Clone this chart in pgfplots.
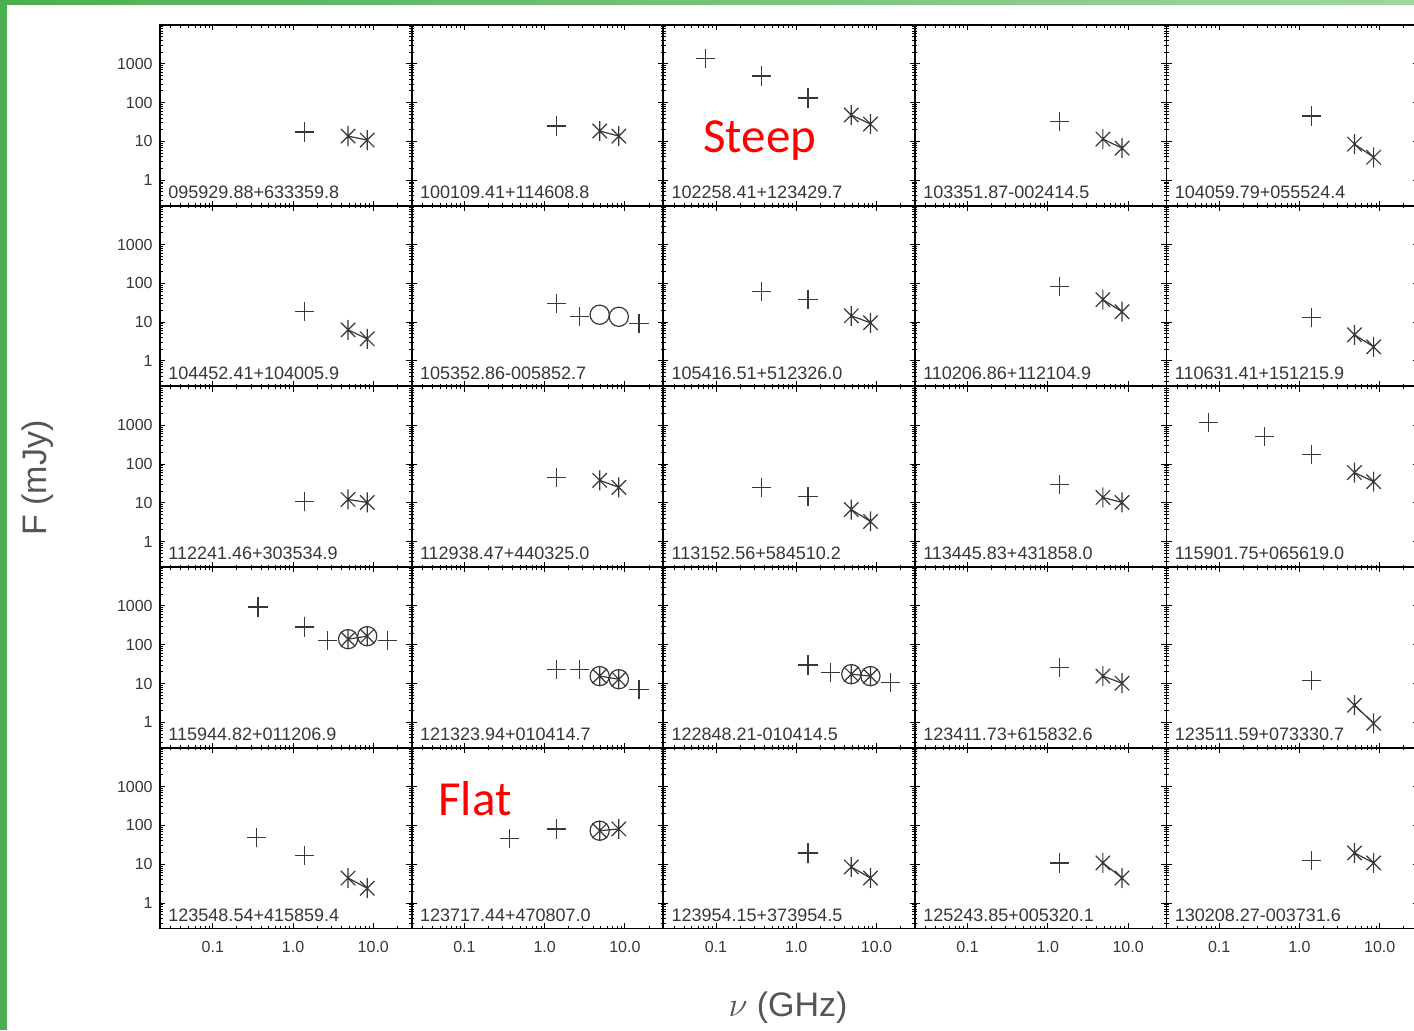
\documentclass[border=0pt]{standalone}
\usepackage{fontspec}
\setmainfont{Liberation Sans}
\newfontfamily\calibri{Carlito}
\usepackage{pgfplots}
\pgfplotsset{compat=1.18}
\definecolor{gA}{RGB}{76,176,80}
\definecolor{gB}{RGB}{160,214,160}
\definecolor{ink}{RGB}{55,55,55}
\definecolor{lab}{RGB}{85,85,85}
\pgfdeclareplotmark{idlstar}{%
  \pgfpathmoveto{\pgfqpoint{0pt}{\pgfplotmarksize}}%
  \pgfpathlineto{\pgfqpoint{0pt}{-\pgfplotmarksize}}%
  \pgfpathmoveto{\pgfqpoint{-0.72\pgfplotmarksize}{-0.72\pgfplotmarksize}}%
  \pgfpathlineto{\pgfqpoint{0.72\pgfplotmarksize}{0.72\pgfplotmarksize}}%
  \pgfpathmoveto{\pgfqpoint{-0.72\pgfplotmarksize}{0.72\pgfplotmarksize}}%
  \pgfpathlineto{\pgfqpoint{0.72\pgfplotmarksize}{-0.72\pgfplotmarksize}}%
  \pgfusepathqstroke}
\newcommand\Pbegin[4]{\begin{axis}[
  xmode=log, ymode=log, xmin=0.022, xmax=30, ymin=0.22, ymax=10000,
  scale only axis, width=125.8pt, height=90.35pt,
  xtick={0.1,1,10}, ytick={1,10,100,1000},
  minor xtick={0.03,0.04,0.05,0.06,0.07,0.08,0.09,0.2,0.3,0.4,0.5,0.6,0.7,0.8,0.9,2,3,4,5,6,7,8,9,20},
  minor ytick={0.3,0.4,0.5,0.6,0.7,0.8,0.9,2,3,4,5,6,7,8,9,20,30,40,50,60,70,80,90,200,300,400,500,600,700,800,900,2000,3000,4000,5000,6000,7000,8000,9000},
  xticklabels={#3}, yticklabels={#4},
  tick align=inside, major tick length=2.6pt, minor tick length=1.3pt,
  axis line style={line width=0.9pt, black},
  tick style={black, line width=0.45pt},
  tick label style={font=\fontsize{8}{9}\selectfont, text=ink},
  xticklabel style={inner sep=0pt, yshift=-6pt},
  yticklabel style={inner sep=0pt, xshift=-3.5pt},
  clip=false, at={(#1,#2)}]}
\newcommand\PL[1]{\addplot[only marks, mark=+, mark size=4.8pt, color=ink, line width=0.6pt] coordinates {#1};}
\newcommand\ST[1]{\addplot[mark=idlstar, mark size=5pt, color=ink, line width=0.6pt] coordinates {#1};}
\newcommand\CI[1]{\addplot[only marks, mark=o, mark size=4.8pt, color=ink, line width=0.6pt] coordinates {#1};}
\newcommand\NM[1]{\node[anchor=base west, inner sep=0pt, text=ink, font=\fontsize{9}{10}\selectfont] at (rel axis cs:0.032,0.04) {#1};}
\begin{document}
\begin{tikzpicture}
\useasboundingbox (0,0) rectangle (707pt,515pt);
\fill[white] (0,0) rectangle (707pt,515pt);
\fill[gA] (0,0) rectangle (3.5pt,515pt);
\shade[left color=gA, right color=gB] (0,512.5pt) rectangle (707pt,515pt);

% ---------- row 1 ----------
\Pbegin{80pt}{412.15pt}{}{1,10,100,1000}
\PL{(1.4,17.4)}
\ST{(4.85,13.7) (8.4,10.8)}
\NM{095929.88+633359.8}
\end{axis}
\Pbegin{205.8pt}{412.15pt}{}{}
\PL{(1.4,25)}
\ST{(4.85,18.5) (8.4,13.7)}
\NM{100109.41+114608.8}
\end{axis}
\Pbegin{331.6pt}{412.15pt}{}{}
\PL{(0.074,1340) (0.365,485) (1.4,131)}
\ST{(4.85,48) (8.4,28)}
\NM{102258.41+123429.7}
\end{axis}
\Pbegin{457.4pt}{412.15pt}{}{}
\PL{(1.4,33)}
\ST{(4.85,11.5) (8.4,6.7)}
\NM{103351.87-002414.5}
\end{axis}
\Pbegin{583.2pt}{412.15pt}{}{}
\PL{(1.4,45)}
\ST{(4.85,8.5) (8.4,3.9)}
\NM{104059.79+055524.4}
\end{axis}

% ---------- row 2 ----------
\Pbegin{80pt}{321.8pt}{}{1,10,100,1000}
\PL{(1.4,18.5)}
\ST{(4.85,6.3) (8.4,3.7)}
\NM{104452.41+104005.9}
\end{axis}
\Pbegin{205.8pt}{321.8pt}{}{}
\PL{(1.4,30) (2.7,13.7) (15,9)}
\CI{(4.85,15.5) (8.4,13.7)}
\NM{105352.86-005852.7}
\end{axis}
\Pbegin{331.6pt}{321.8pt}{}{}
\PL{(0.365,60) (1.4,38)}
\ST{(4.85,14.5) (8.4,9.6)}
\NM{105416.51+512326.0}
\end{axis}
\Pbegin{457.4pt}{321.8pt}{}{}
\PL{(1.4,81)}
\ST{(4.85,38) (8.4,18.5)}
\NM{110206.86+112104.9}
\end{axis}
\Pbegin{583.2pt}{321.8pt}{}{}
\PL{(1.4,12.9)}
\ST{(4.85,4.7) (8.4,2.3)}
\NM{110631.41+151215.9}
\end{axis}

% ---------- row 3 ----------
\Pbegin{80pt}{231.45pt}{}{1,10,100,1000}
\PL{(1.4,10.8)}
\ST{(4.85,12.2) (8.4,10.2)}
\NM{112241.46+303534.9}
\end{axis}
\Pbegin{205.8pt}{231.45pt}{}{}
\PL{(1.4,45)}
\ST{(4.85,38) (8.4,25)}
\NM{112938.47+440325.0}
\end{axis}
\Pbegin{331.6pt}{231.45pt}{}{}
\PL{(0.365,25) (1.4,14.5)}
\ST{(4.85,6.7) (8.4,3.3)}
\NM{113152.56+584510.2}
\end{axis}
\Pbegin{457.4pt}{231.45pt}{}{}
\PL{(1.4,30)}
\ST{(4.85,13.7) (8.4,10.2)}
\NM{113445.83+431858.0}
\end{axis}
\Pbegin{583.2pt}{231.45pt}{}{}
\PL{(0.074,1180) (0.365,520) (1.4,178)}
\ST{(4.85,60) (8.4,35)}
\NM{115901.75+065619.0}
\end{axis}

% ---------- row 4 ----------
\Pbegin{80pt}{141.1pt}{}{1,10,100,1000}
\PL{(0.365,935) (1.4,285) (2.7,128) (15,131)}
\CI{(4.85,139) (8.4,166)}
\ST{(4.85,139) (8.4,166)}
\NM{115944.82+011206.9}
\end{axis}
\Pbegin{205.8pt}{141.1pt}{}{}
\PL{(1.4,23.3) (2.7,23.3) (15,7.1)}
\CI{(4.85,15.5) (8.4,12.9)}
\ST{(4.85,15.5) (8.4,12.9)}
\NM{121323.94+010414.7}
\end{axis}
\Pbegin{331.6pt}{141.1pt}{}{}
\PL{(1.4,30) (2.7,19.6) (15,10.8)}
\CI{(4.85,17.4) (8.4,15.5)}
\ST{(4.85,17.4) (8.4,15.5)}
\NM{122848.21-010414.5}
\end{axis}
\Pbegin{457.4pt}{141.1pt}{}{}
\PL{(1.4,26)}
\ST{(4.85,15.5) (8.4,10.2)}
\NM{123411.73+615832.6}
\end{axis}
\Pbegin{583.2pt}{141.1pt}{}{}
\PL{(1.4,12.2)}
\ST{(4.85,2.75) (8.4,0.94)}
\NM{123511.59+073330.7}
\end{axis}

% ---------- row 5 ----------
\Pbegin{80pt}{50.75pt}{0.1,1.0,10.0}{1,10,100,1000}
\PL{(0.35,48) (1.4,16.4)}
\ST{(4.85,4.4) (8.4,2.4)}
\NM{123548.54+415859.4}
\end{axis}
\Pbegin{205.8pt}{50.75pt}{0.1,1.0,10.0}{}
\PL{(0.365,45) (1.4,81)}
\CI{(4.85,73)}
\ST{(4.85,73) (8.4,81)}
\NM{123717.44+470807.0}
\end{axis}
\Pbegin{331.6pt}{50.75pt}{0.1,1.0,10.0}{}
\PL{(1.4,19.5)}
\ST{(4.85,8.5) (8.4,4.4)}
\NM{123954.15+373954.5}
\end{axis}
\Pbegin{457.4pt}{50.75pt}{0.1,1.0,10.0}{}
\PL{(1.4,10.8)}
\ST{(4.85,10.8) (8.4,4.4)}
\NM{125243.85+005320.1}
\end{axis}
\Pbegin{583.2pt}{50.75pt}{0.1,1.0,10.0}{}
\PL{(1.4,12.2)}
\ST{(4.85,19.5) (8.4,10.8)}
\NM{130208.27-003731.6}
\end{axis}

% axis titles and annotations
\node[rotate=90, text=lab, font=\fontsize{17}{20}\selectfont, inner sep=0pt] at (19pt,276pt) {F (mJy)};
\node[text=lab, font=\fontsize{17}{20}\selectfont, inner sep=0pt] at (394pt,11pt) {$\nu$ (GHz)};
\node[anchor=base west, inner sep=0pt, text=red, font=\calibri\fontsize{24.5}{28}\selectfont] at (351.5pt,438.5pt) {Steep};
\node[anchor=base west, inner sep=0pt, text=red, font=\calibri\fontsize{24.5}{28}\selectfont] at (219pt,107.5pt) {Flat};
\end{tikzpicture}
\end{document}
